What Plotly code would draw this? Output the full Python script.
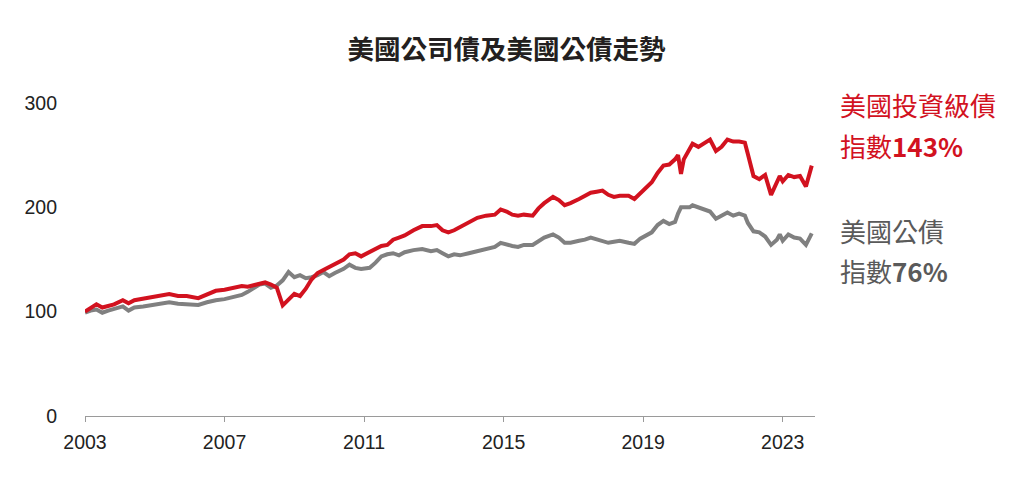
import plotly.graph_objects as go

dates = [
    "2003-01", "2003-03", "2003-05", "2003-07", "2003-09", "2003-11",
    "2004-02", "2004-04", "2004-06", "2004-09",
    "2005-01", "2005-03", "2005-06", "2005-09", "2005-12",
    "2006-04", "2006-07", "2006-10",
    "2007-01", "2007-04", "2007-07", "2007-09",
    "2008-01", "2008-03", "2008-05", "2008-07", "2008-09", "2008-11",
    "2009-01", "2009-03", "2009-05", "2009-07", "2009-09", "2009-11",
    "2010-01", "2010-03", "2010-06", "2010-08", "2010-10", "2010-12",
    "2011-03", "2011-05", "2011-07", "2011-09", "2011-11",
    "2012-01", "2012-03", "2012-06", "2012-09", "2012-12",
    "2013-02", "2013-04", "2013-06", "2013-08", "2013-10",
    "2014-01", "2014-04", "2014-07", "2014-10", "2014-12",
    "2015-02", "2015-04", "2015-06", "2015-08", "2015-11",
    "2016-01", "2016-03", "2016-06", "2016-08", "2016-10", "2016-12",
    "2017-03", "2017-05", "2017-07", "2017-09", "2017-11",
    "2018-01", "2018-03", "2018-05", "2018-08", "2018-10", "2018-12",
    "2019-02", "2019-04", "2019-06", "2019-08", "2019-10", "2019-12",
    "2020-01", "2020-02", "2020-03", "2020-05", "2020-06", "2020-08", "2020-10", "2020-12",
    "2021-02", "2021-04", "2021-06", "2021-08", "2021-10", "2021-12",
    "2022-01", "2022-03", "2022-05", "2022-07", "2022-09", "2022-11", "2022-12",
    "2023-01", "2023-03", "2023-05", "2023-07", "2023-09", "2023-11",
]

corp_ig = [
    100, 103, 107, 104, 106, 107,
    111, 108, 111, 112.5,
    114.5, 115, 117, 115, 115,
    113, 117, 120,
    121, 123, 124.5, 124,
    127, 128, 126, 123, 106, 112,
    117, 115, 122, 131, 137, 140,
    143, 145, 150, 155, 156, 153,
    157, 160, 163, 164, 169,
    171, 173, 178, 182, 182,
    183, 178, 176, 178, 181,
    186, 190, 192, 193, 198,
    196, 193, 192, 193, 192,
    199, 204, 210, 207, 202, 204,
    208, 211, 214, 215, 216,
    212, 210, 211, 211, 208, 213,
    218, 224, 233, 240, 241, 246,
    250, 232, 246, 255, 261, 258, 262, 265,
    254, 258, 265, 263, 263, 262,
    251, 230, 227, 231, 212, 224, 230,
    225, 231, 229, 230, 220, 240,
]

treasury = [
    99, 101, 102, 99, 101, 103,
    105, 101, 104, 105,
    107, 108, 109, 107.5, 107,
    106.5, 109, 111,
    112, 114, 116, 119,
    126, 127, 123, 125, 130, 138,
    133, 135, 132, 133, 135, 138,
    134, 137, 141, 145, 142, 141,
    142, 147, 153, 155, 156,
    154, 157, 159, 160, 158,
    159, 156, 153, 155, 154,
    156, 158, 160, 162, 166,
    164, 163, 162, 164, 164,
    168, 171, 174, 171, 166, 166,
    168, 169, 171, 169, 168,
    166, 167, 168, 166, 165, 170,
    173, 176, 183, 187, 184, 186,
    194, 200, 200, 200, 202, 200, 198, 196,
    189, 192, 195, 192, 194, 192,
    185, 177, 176, 172, 164, 169, 174,
    168, 174, 171, 170, 164, 175,
]

y_ticks = [0, 100, 200, 300]
x_tick_vals = ["2003-01-01", "2007-01-01", "2011-01-01", "2015-01-01", "2019-01-01", "2023-01-01"]
x_tick_text = ["2003", "2007", "2011", "2015", "2019", "2023"]

RED = "#d2121f"
GRAY = "#808080"
TEXT_GRAY = "#5a5a5a"

fig = go.Figure()
fig.add_trace(go.Scatter(x=dates, y=treasury, mode="lines",
                         line=dict(color=GRAY, width=4), name="美國公債"))
fig.add_trace(go.Scatter(x=dates, y=corp_ig, mode="lines",
                         line=dict(color=RED, width=4), name="美國投資級債"))

fig.update_layout(
    width=1013, height=478,
    margin=dict(l=85, r=198, t=103, b=62),
    paper_bgcolor="white", plot_bgcolor="white",
    showlegend=False,
    font=dict(family="Liberation Sans, Arial, sans-serif", color="#222222", size=19),
    title=dict(text="<b>美國公司債及美國公債走勢</b>",
               font=dict(family="Noto Sans CJK TC, sans-serif", size=26.5, color="#231f20"),
               x=0.5, xanchor="center", xref="container",
               y=1 - 50 / 478, yanchor="middle", yref="container"),
)

fig.update_xaxes(
    type="date",
    range=["2003-01-01", "2023-12-05"],
    tickvals=x_tick_vals, ticktext=x_tick_text,
    showgrid=False, zeroline=False,
    showline=True, linecolor="#9a9a9a", linewidth=1,
    ticks="outside", ticklen=5, tickcolor="#9a9a9a", tickwidth=1,
    tickfont=dict(size=19.5, color="#222222"),
    ticklabelstandoff=4,
)
fig.update_yaxes(
    range=[0, 300],
    tickvals=y_ticks,
    showgrid=False, zeroline=False, showline=False,
    tickfont=dict(size=19.5, color="#222222"),
    ticklabelstandoff=27,
)

annots = [
    ("美國投資級債", RED, 104),
    ("指數<b>143%</b>", RED, 145),
    ("美國公債", TEXT_GRAY, 230),
    ("指數<b>76%</b>", TEXT_GRAY, 270),
]
for txt, col, ypx in annots:
    fig.add_annotation(
        text=txt, xref="paper", yref="paper",
        x=(838 - 85) / 730, y=(416 - ypx) / 313,
        xanchor="left", yanchor="middle", showarrow=False,
        font=dict(family="Noto Sans CJK TC, Liberation Sans, sans-serif", size=26, color=col),
    )

fig.write_html("out.html")
